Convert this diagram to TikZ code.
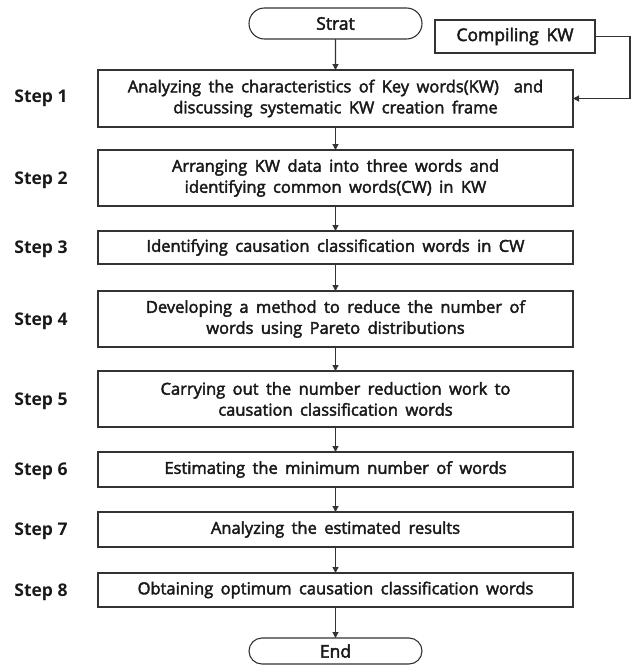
\documentclass[tikz,border=0pt]{standalone}
\usepackage{fontspec}
\setmainfont{Open Sans}
\newfontfamily\bxf{Open Sans}[FakeBold=2.5]
\usetikzlibrary{arrows.meta,shapes.misc}
\definecolor{ln}{HTML}{333333}
\newcommand{\bxfont}[1]{\bxf\fontsize{#1}{21}\selectfont\spaceskip=0.45em plus 0.1em\relax}
\begin{document}
\begin{tikzpicture}[x=1pt,y=-1pt,
  box/.style={draw=ln,line width=1.3pt,minimum width=475pt,inner sep=0pt,outer sep=0pt,align=center,
    font=\bxfont{16.5},text=black!90},
  term/.style={draw=ln,line width=1.1pt,rounded rectangle,minimum width=173pt,inner sep=0pt,outer sep=0pt,
    font=\bxfont{17.5},text=black!90},
  lbl/.style={font=\bfseries\fontsize{17.5}{20}\selectfont,text=black!90},
  arr/.style={draw=ln,line width=1.1pt,-{Triangle[length=6pt,width=6pt]}}]
\useasboundingbox (0,0) rectangle (637,667);
\node[term,minimum height=31pt] (start) at (335.5,23.5) {Strat};
\node[box,minimum width=160pt,minimum height=33pt,font=\bxfont{17.5}] (ckw) at (515,36.5) {Compiling KW};
\node[box,minimum height=57pt] (s1) at (335.5,98.5) {Analyzing the characteristics of Key words(KW)\ \ and\\discussing systematic KW creation frame};
\node[box,minimum height=56pt] (s2) at (335.5,178) {Arranging KW data into three words and\\identifying common words(CW) in KW};
\node[box,minimum height=33pt] (s3) at (335.5,247.5) {Identifying causation classification words in CW};
\node[box,minimum height=56pt] (s4) at (335.5,319) {Developing a method to reduce the number of\\words using Pareto distributions};
\node[box,minimum height=56pt] (s5) at (335.5,399) {Carrying out the number reduction work to\\causation classification words};
\node[box,minimum height=35pt] (s6) at (335.5,469.5) {Estimating the minimum number of words};
\node[box,minimum height=35pt] (s7) at (335.5,529.5) {Analyzing the estimated results};
\node[box,minimum height=34pt] (s8) at (335.5,590) {Obtaining optimum causation classification words};
\node[term,minimum height=26pt] (end) at (335.5,651) {End};
\node[lbl] (l1) at (41,98.5) {Step 1};
\node[lbl] (l2) at (41,180) {Step 2};
\node[lbl] (l3) at (41,249) {Step 3};
\node[lbl] (l4) at (41,321) {Step 4};
\node[lbl] (l5) at (41,401) {Step 5};
\node[lbl] (l6) at (41,471) {Step 6};
\node[lbl] (l7) at (41,531) {Step 7};
\node[lbl] (l8) at (41,592) {Step 8};
\draw[arr] (start) -- (s1);
\draw[arr] (s1) -- (s2);
\draw[arr] (s2) -- (s3);
\draw[arr] (s3) -- (s4);
\draw[arr] (s4) -- (s5);
\draw[arr] (s5) -- (s6);
\draw[arr] (s6) -- (s7);
\draw[arr] (s7) -- (s8);
\draw[arr] (s8) -- (end);
\coordinate (turn) at (630,98.5);
\draw[arr] (ckw.east) -| (turn) -- (s1.east);
\end{tikzpicture}
\end{document}
